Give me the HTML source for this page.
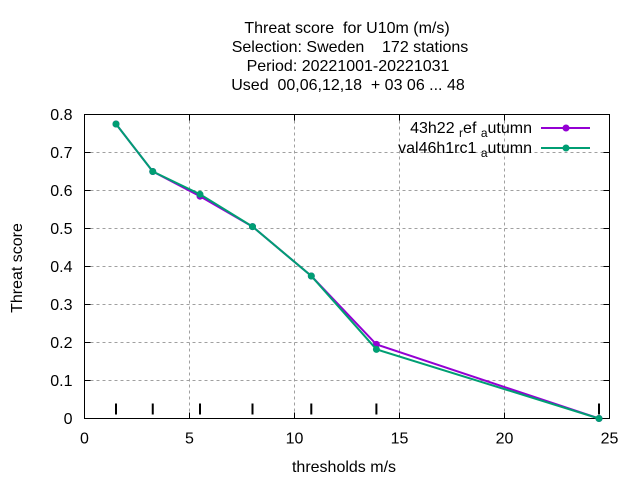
<!DOCTYPE html>
<html><head><meta charset="utf-8"><style>
body{margin:0;background:#fff}
svg{display:block;font-family:"Liberation Sans",sans-serif}
text{white-space:pre}
</style></head><body>
<svg id="chart" width="640" height="480">
<g font-size="16" text-anchor="middle">
<text x="347" y="33" xml:space="preserve">Threat score  for U10m (m/s)</text>
<text x="350" y="52" xml:space="preserve">Selection: Sweden    172 stations</text>
<text x="348" y="71">Period: 20221001-20221031</text>
<text x="348" y="90" xml:space="preserve">Used  00,06,12,18  + 03 06 ... 48</text>
</g>
<g id="grid"></g>
<g id="axes"></g>
<g id="series"></g>
<text x="22" y="268" font-size="16" text-anchor="middle" transform="rotate(-90 22 268)">Threat score</text>
<text x="344" y="472" font-size="16" text-anchor="middle">thresholds m/s</text>
<g font-size="16" text-anchor="end">
<text x="532" y="133" xml:space="preserve">43h22 <tspan font-size="12" dy="4">r</tspan><tspan dy="-4">ef </tspan><tspan font-size="12" dy="4">a</tspan><tspan dy="-4">utumn</tspan></text>
<line x1="541" y1="128" x2="590" y2="128" stroke="#9400d3" stroke-width="2"/>
<circle cx="566" cy="128" r="3.5" fill="#9400d3"/>
<text x="532" y="153" xml:space="preserve">val46h1rc1 <tspan font-size="12" dy="4">a</tspan><tspan dy="-4">utumn</tspan></text>
<line x1="541" y1="148" x2="590" y2="148" stroke="#009e73" stroke-width="2"/>
<circle cx="566" cy="148" r="3.5" fill="#009e73"/>
</g>
</svg>
<script>
const thresholds=[1.5,3.25,5.5,8.0,10.8,13.9,24.5];
const refValues=[0.775,0.65,0.585,0.505,0.375,0.195,0.0];
const valValues=[0.775,0.65,0.59,0.505,0.375,0.182,0.0];
const xTicks=[0,5,10,15,20,25];
const yTicks=[0,0.1,0.2,0.3,0.4,0.5,0.6,0.7,0.8];
const NS="http://www.w3.org/2000/svg";
const L=84.5,R=609.5,T=114.5,B=418.5;
const xs=v=>L+(v-0)/25*(R-L);
const ys=v=>B-(v-0)/0.8*(B-T);
function mk(tag,attrs,parent){const e=document.createElementNS(NS,tag);for(const k in attrs)e.setAttribute(k,attrs[k]);parent.appendChild(e);return e;}
const grid=document.getElementById('grid'),axes=document.getElementById('axes'),series=document.getElementById('series');
yTicks.forEach(v=>{
 const y=ys(v);
 if(v>0&&v<0.8){const g=mk('line',{x1:L,x2:R,y1:y,y2:y,stroke:'#a0a0a0','stroke-dasharray':'3,3'},grid);
 
 }
 mk('line',{x1:L,x2:L+6,y1:y,y2:y,stroke:'#000'},axes);
 mk('line',{x1:R,x2:R-6,y1:y,y2:y,stroke:'#000'},axes);
 const t=mk('text',{x:L-12,y:y+5.5,'font-size':16,'text-anchor':'end'},axes);t.textContent=String(v);
 
 
});
xTicks.forEach(v=>{
 const x=xs(v);
 if(v>0&&v<25){const g=mk('line',{x1:x,x2:x,y1:T,y2:B,stroke:'#a0a0a0','stroke-dasharray':'3,3'},grid);
 
 }
 mk('line',{x1:x,x2:x,y1:B,y2:B-6,stroke:'#000'},axes);
 mk('line',{x1:x,x2:x,y1:T,y2:T+6,stroke:'#000'},axes);
 const t=mk('text',{x:x,y:B+25,'font-size':16,'text-anchor':'middle'},axes);t.textContent=String(v);
 
 
});
mk('rect',{x:L,y:T,width:R-L,height:B-T,fill:'none',stroke:'#000'},axes);
thresholds.forEach(v=>{const m=mk('line',{x1:xs(v),x2:xs(v),y1:B-15,y2:B-4,stroke:'#000','stroke-width':2},axes);
 
 });
function draw(vals,color,name){
 const p=mk('polyline',{points:thresholds.map((t,i)=>xs(t)+','+ys(vals[i])).join(' '),fill:'none',stroke:color,'stroke-width':2},series);
 
 
 thresholds.forEach((t,i)=>{const c=mk('circle',{cx:xs(t),cy:ys(vals[i]),r:3.5,fill:color},series);
 
 });
}
draw(refValues,'#9400d3','ref-series');
draw(valValues,'#009e73','val-series');
</script>
</body></html>
